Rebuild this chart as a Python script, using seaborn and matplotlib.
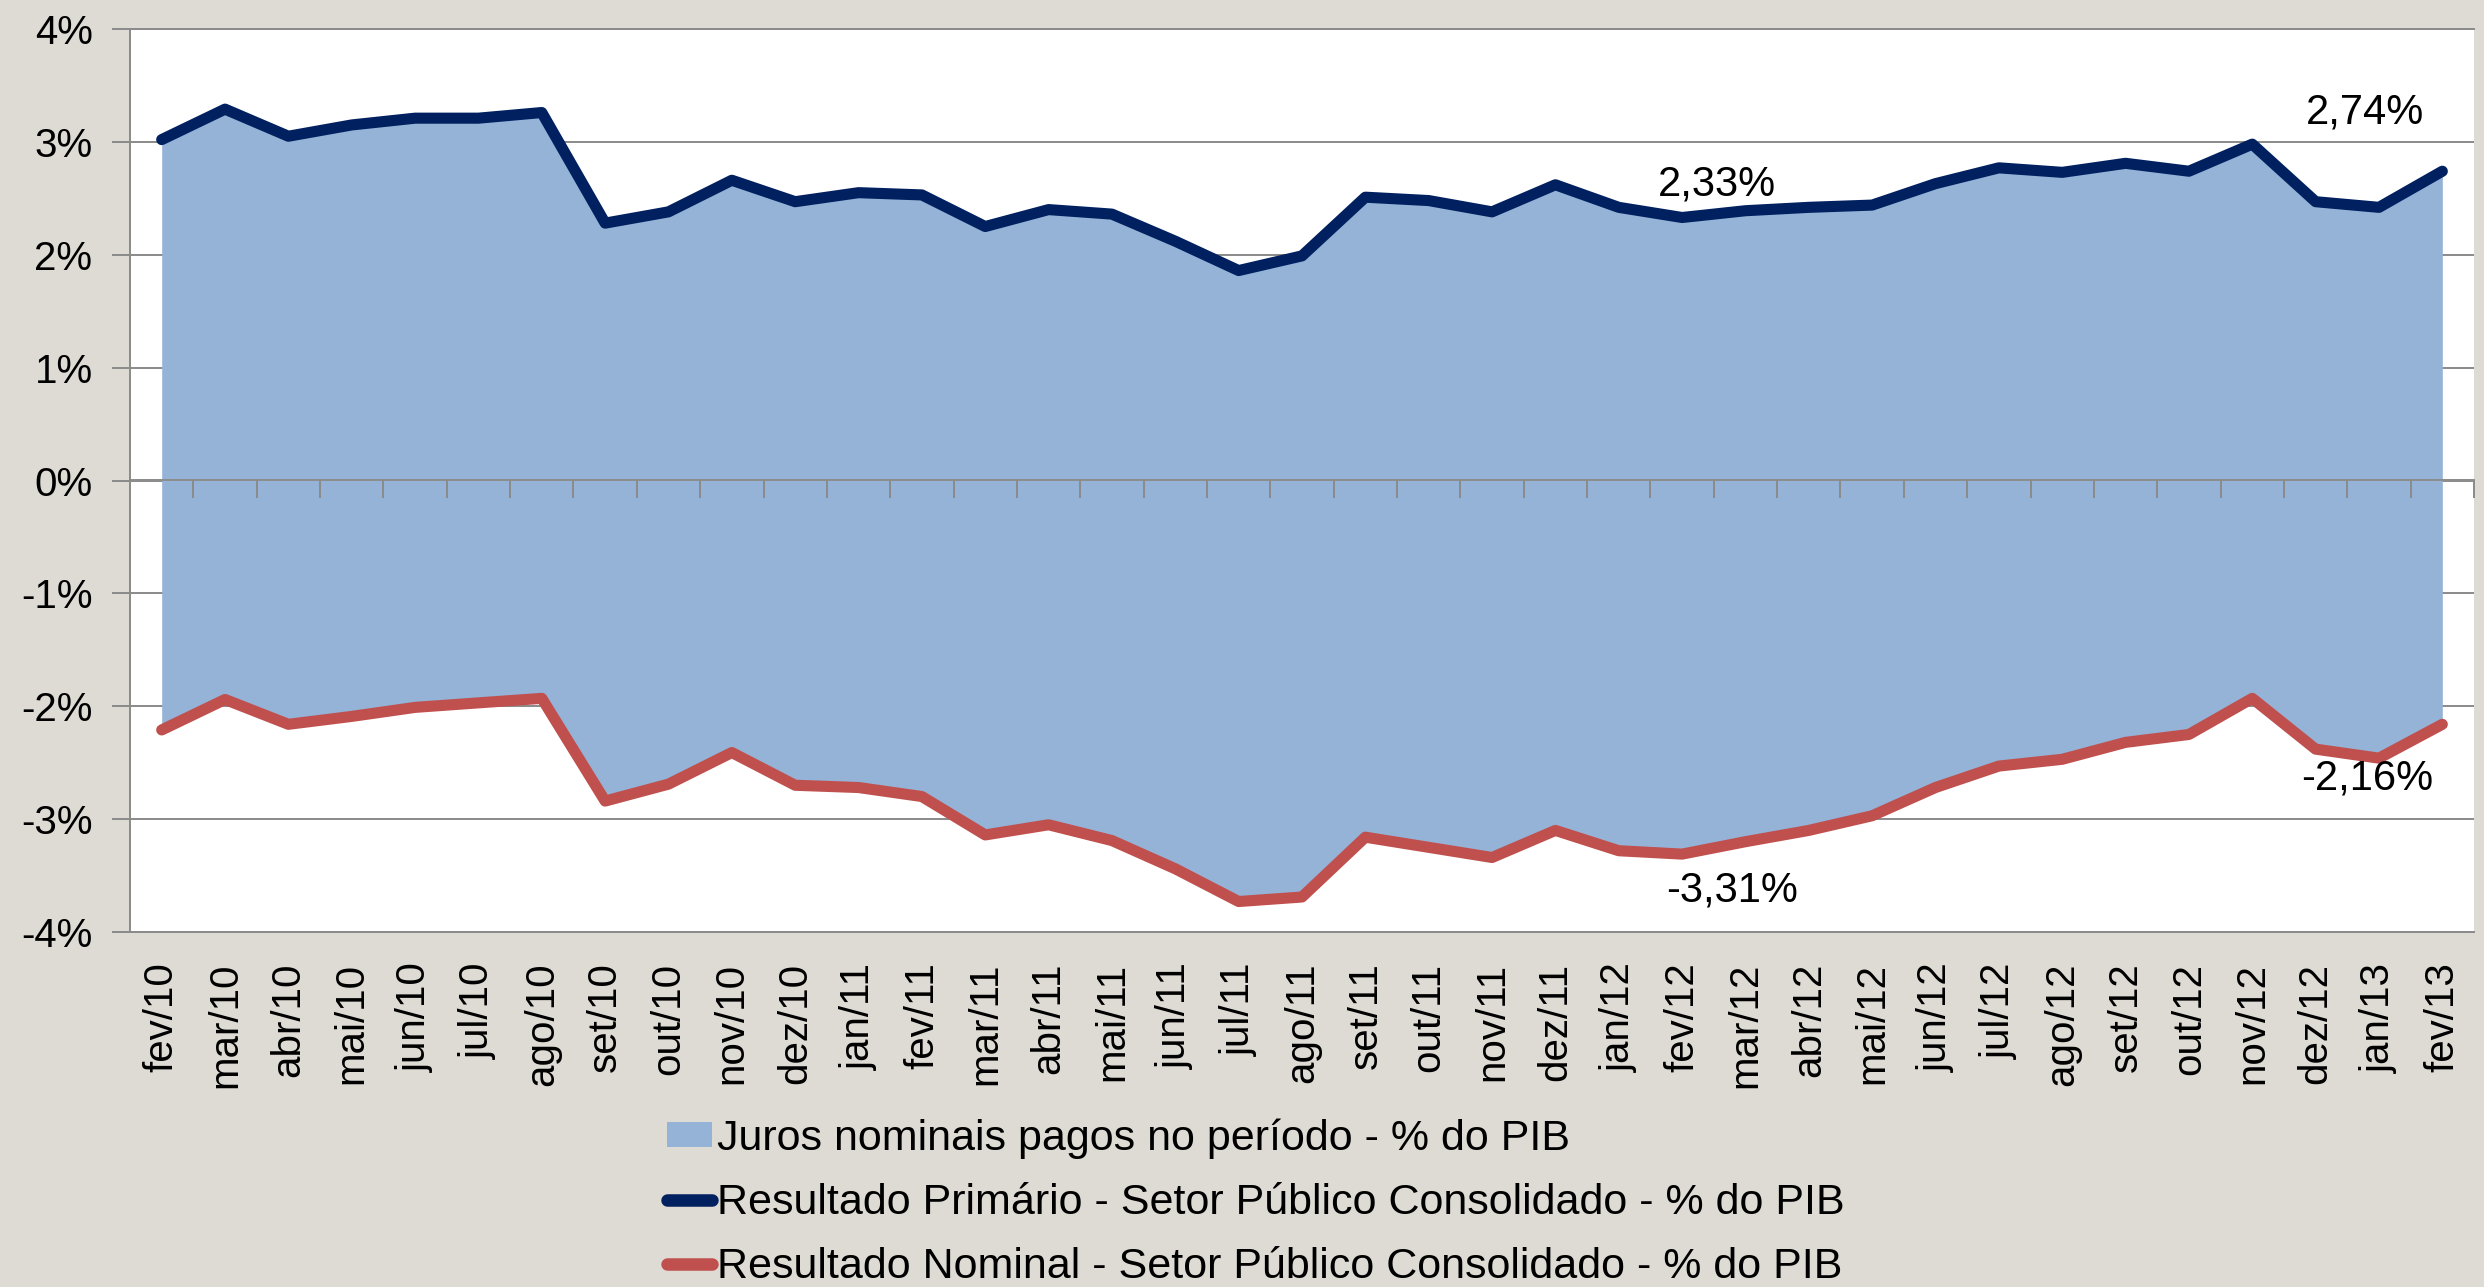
import numpy as np
import pandas as pd
import matplotlib
matplotlib.use("Agg")
import matplotlib.pyplot as plt
import seaborn as sns
from matplotlib.patches import Patch
from matplotlib.lines import Line2D
from matplotlib.ticker import FixedLocator, FuncFormatter

# ---------------- data ----------------
months = ["fev/10", "mar/10", "abr/10", "mai/10", "jun/10", "jul/10", "ago/10", "set/10",
          "out/10", "nov/10", "dez/10", "jan/11", "fev/11", "mar/11", "abr/11", "mai/11",
          "jun/11", "jul/11", "ago/11", "set/11", "out/11", "nov/11", "dez/11", "jan/12",
          "fev/12", "mar/12", "abr/12", "mai/12", "jun/12", "jul/12", "ago/12", "set/12",
          "out/12", "nov/12", "dez/12", "jan/13", "fev/13"]

primario = [3.02, 3.29, 3.05, 3.15, 3.21, 3.21, 3.26, 2.28, 2.38, 2.66, 2.47, 2.55, 2.53,
            2.25, 2.40, 2.36, 2.12, 1.86, 1.99, 2.51, 2.48, 2.38, 2.62, 2.42, 2.33, 2.39,
            2.42, 2.44, 2.63, 2.77, 2.73, 2.81, 2.74, 2.98, 2.47, 2.42, 2.74]

nominal = [-2.21, -1.94, -2.16, -2.09, -2.01, -1.97, -1.93, -2.84, -2.69, -2.41, -2.70,
           -2.72, -2.80, -3.14, -3.05, -3.19, -3.44, -3.73, -3.69, -3.16, -3.25, -3.34,
           -3.10, -3.28, -3.31, -3.20, -3.10, -2.97, -2.72, -2.53, -2.47, -2.32, -2.25,
           -1.93, -2.38, -2.46, -2.16]

yticks = [-4, -3, -2, -1, 0, 1, 2, 3, 4]

labels_series = ["Juros nominais pagos no período - % do PIB",
                 "Resultado Primário - Setor Público Consolidado - % do PIB",
                 "Resultado Nominal - Setor Público Consolidado - % do PIB"]

# annotations: (index, series, text, dx pts, dy pts)
annots = [(24, "p", "2,33%", 25, 24),
          (36, "p", "2,74%", -56, 42),
          (24, "n", "-3,31%", 36, -26),
          (36, "n", "-2,16%", -54, -39)]

# ---------------- style ----------------
BG = "#dedbd4"
AREA = "#95b3d7"
BLUE = "#002060"
RED = "#c0504d"
GRID = "#8a8a8a"
GLW = 1.4

sns.set_theme(style="white")
plt.rcParams["font.family"] = ["Liberation Sans", "DejaVu Sans"]
plt.rcParams["text.color"] = "black"
plt.rcParams["xtick.color"] = "black"
plt.rcParams["ytick.color"] = "black"
FS_TICK = 29
FS_ANN = 30
FS_LEG = 31

idx = np.arange(len(months))
df = pd.DataFrame({
    "x": np.concatenate([idx, idx]),
    "v": primario + nominal,
    "serie": [labels_series[1]] * len(idx) + [labels_series[2]] * len(idx),
})

fig = plt.figure(figsize=(24.84, 12.87), dpi=100, facecolor=BG)
ax = fig.add_axes([130 / 2484, 1 - 932 / 1287, (2474 - 130) / 2484, (932 - 29) / 1287])
ax.set_facecolor("white")

ax.set_ylim(-4, 4)
ax.set_xlim(-0.5, len(months) - 0.5)
ax.yaxis.set_major_locator(FixedLocator(yticks))
ax.yaxis.set_major_formatter(FuncFormatter(lambda v, p: f"{int(round(v))}%"))
ax.grid(axis="y", color=GRID, lw=GLW, zorder=0)
ax.set_axisbelow(True)

# area between series
ax.fill_between(idx, nominal, primario, color=AREA, lw=0, zorder=1)

# lines
sns.lineplot(data=df, x="x", y="v", hue="serie", palette=[BLUE, RED], ax=ax,
             lw=8, legend=False, zorder=3, solid_joinstyle="round", solid_capstyle="round")

ax.spines["right"].set_visible(False)
for s in ["left", "top", "bottom"]:
    ax.spines[s].set_color(GRID)
    ax.spines[s].set_linewidth(GLW)

ax.tick_params(axis="y", which="major", left=True, length=13, width=GLW, color=GRID,
               labelsize=FS_TICK, pad=14, labelcolor="black")
ax.set_xticks(idx)
ax.set_xticklabels(months, rotation=90, fontsize=FS_TICK)
ax.tick_params(axis="x", which="major", length=0, pad=22, labelcolor="black")
ax.set_xlabel("")
ax.set_ylabel("")

# zero axis with category boundary ticks (ticks pointing downward)
sec = ax.secondary_xaxis(0.5)
sec.set_zorder(2)
sec.set_xticks(np.arange(0.5, len(months), 1.0).tolist())
sec.set_xticklabels([])
sec.tick_params(axis="x", direction="in", length=13, width=GLW, color=GRID,
                labelbottom=False, labeltop=False, bottom=False, top=True)
sec.spines["top"].set_visible(True)
sec.spines["top"].set_color(GRID)
sec.spines["top"].set_linewidth(GLW)
sec.spines["bottom"].set_visible(False)

# annotations
for i, s, txt, dx, dy in annots:
    yv = primario[i] if s == "p" else nominal[i]
    ax.annotate(txt, xy=(i, yv), xytext=(dx, dy), textcoords="offset points",
                ha="center", va="center", fontsize=FS_ANN, color="black", zorder=5)

# legend
handles = [Patch(facecolor=AREA, edgecolor="none"),
           Line2D([0], [0], color=BLUE, lw=9, solid_capstyle="round"),
           Line2D([0], [0], color=RED, lw=9, solid_capstyle="round")]
fig.legend(handles, labels_series, loc="upper left", bbox_to_anchor=(0.2685, 0.131),
           frameon=False, fontsize=FS_LEG, handlelength=1.05, handleheight=0.5,
           handletextpad=0.12, labelspacing=0.56, borderpad=0, borderaxespad=0,
           labelcolor="black")

fig.savefig("out.png", dpi=100, facecolor=BG)
